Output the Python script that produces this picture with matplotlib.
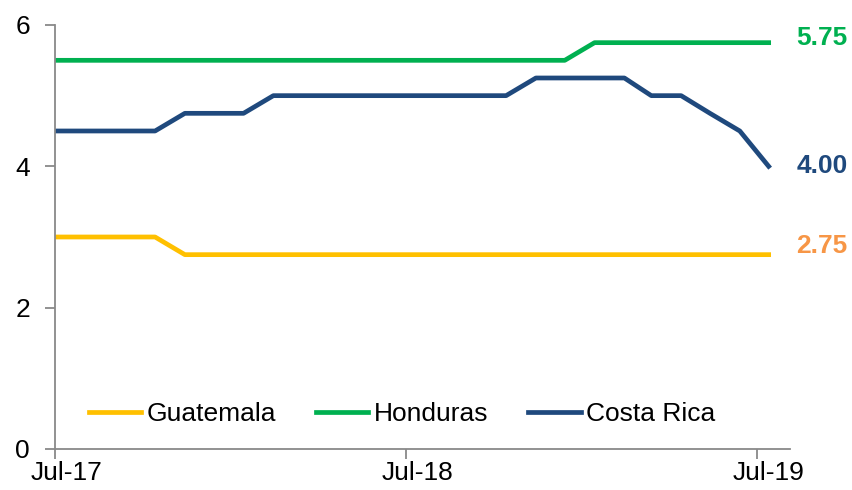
import matplotlib.pyplot as plt
import matplotlib.dates as mdates
import pandas as pd

dates = ['2017-07-01', '2017-08-13', '2017-09-13', '2017-10-13', '2017-11-13', '2017-12-13',
         '2018-01-13', '2018-02-13', '2018-03-13', '2018-04-13', '2018-05-13', '2018-06-13',
         '2018-07-13', '2018-08-13', '2018-09-13', '2018-10-13', '2018-11-13', '2018-12-13',
         '2019-01-13', '2019-02-13', '2019-03-13', '2019-04-13', '2019-05-13', '2019-06-13',
         '2019-07-13']
guatemala = [3.0, 3.0, 3.0, 3.0] + [2.75] * 21
honduras = [5.5] * 18 + [5.75] * 7
costa_rica = [4.5, 4.5, 4.5, 4.5, 4.75, 4.75, 4.75, 5.0, 5.0, 5.0, 5.0, 5.0, 5.0, 5.0, 5.0, 5.0,
              5.25, 5.25, 5.25, 5.25, 5.0, 5.0, 4.75, 4.5, 4.0]
end_labels = ['2.75', '5.75', '4.00']
end_colors = ['#F79646', '#00B050', '#1F497D']
end_offsets = [6, 3, 0]
tick_dates = ['2017-07-01', '2018-07-01', '2019-07-01']
label_dates = ['2017-07-13', '2018-07-13', '2019-07-13']

x = pd.to_datetime(dates)

plt.rcParams['font.family'] = 'Liberation Sans'

fig = plt.figure(figsize=(8.52, 4.9), dpi=100)
ax = fig.add_axes([0.0646, 0.0837, 0.8624, 0.8653])

ax.plot(x, guatemala, color='#FFC000', lw=3.4, label='Guatemala')
ax.plot(x, honduras, color='#00B050', lw=3.4, label='Honduras')
ax.plot(x, costa_rica, color='#1F497D', lw=3.4, label='Costa Rica')

for series, txt, col, off in zip([guatemala, honduras, costa_rica], end_labels, end_colors, end_offsets):
    ax.annotate(txt, xy=(x[-1], series[-1]), xytext=(20, off), textcoords='offset points',
                color=col, fontsize=19, fontweight='bold', va='center', ha='left',
                annotation_clip=False)

ax.set_ylim(0, 6)
ax.set_yticks([0, 2, 4, 6])
ax.set_xlim(pd.Timestamp('2017-07-01'), pd.Timestamp('2019-08-04'))
# ticks on the month boundaries, labels centred on the July points
ax.set_xticks(pd.to_datetime(tick_dates))
ax.xaxis.set_major_formatter(plt.NullFormatter())
ax.set_xticks(pd.to_datetime(label_dates), minor=True)
ax.xaxis.set_minor_formatter(mdates.DateFormatter('%b-%y'))

for side in ['top', 'right']:
    ax.spines[side].set_visible(False)
for side in ['left', 'bottom']:
    ax.spines[side].set_color('#898989')
    ax.spines[side].set_linewidth(1.3)
ax.tick_params(colors='#898989', width=1.3, length=7, labelsize=19, labelcolor='black')
ax.tick_params(axis='x', which='minor', length=0, pad=9, labelsize=19, labelcolor='black')
ax.tick_params(axis='y', pad=11)

ax.legend(loc='center', bbox_to_anchor=(0.472, 0.083), ncol=3, frameon=False,
          fontsize=19, handlelength=2.0, handletextpad=0.2, columnspacing=1.5)

plt.savefig('out.png')
